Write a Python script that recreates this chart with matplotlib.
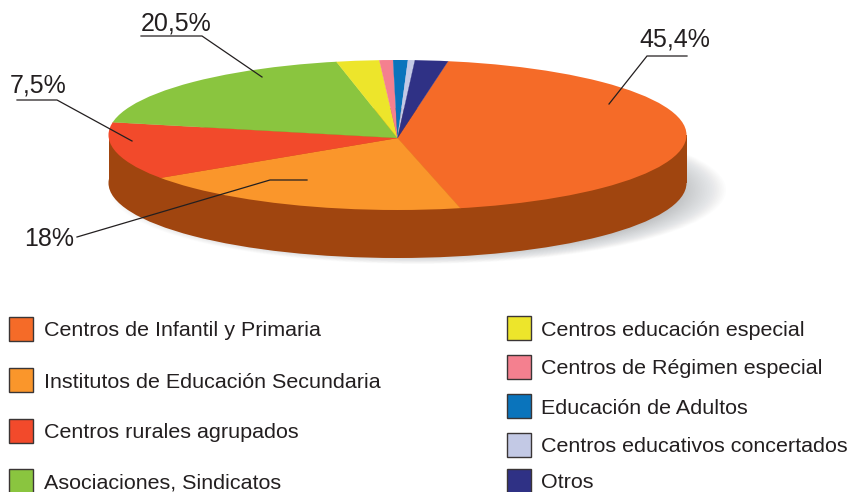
import matplotlib
matplotlib.use("Agg")
import matplotlib.pyplot as plt
from matplotlib.patches import Ellipse, Rectangle

# Slice shares as drawn in the picture (clockwise from the top right)
categories = ["Centros de Infantil y Primaria", "Institutos de Educación Secundaria",
              "Centros rurales agrupados", "Asociaciones, Sindicatos",
              "Centros educación especial", "Centros de Régimen especial",
              "Educación de Adultos", "Centros educativos concertados", "Otros"]
slice_shares = [43.7, 19.5, 12.5, 18.4, 2.3, 0.73, 0.79, 0.37, 1.77]
slice_colors = ["#F56B28", "#FA962B", "#F24A2B", "#8AC53F", "#EDE52B",
                "#F4808F", "#0A74BC", "#C3C9E5", "#2F3185"]
value_labels = ["45,4%", "18%", "7,5%", "20,5%"]

W, H = 851, 492
TXT = "#231f20"
plt.rcParams["font.family"] = ["Liberation Sans", "DejaVu Sans"]
fig = plt.figure(figsize=(W / 100, H / 100), dpi=100, facecolor="white")

# pixel axes for the base (shadow, side)
base = fig.add_axes([0, 0, 1, 1])
base.set_xlim(0, W); base.set_ylim(H, 0); base.axis("off")
n = 50
for i in range(n):
    f = 1 - 0.28 * i / n
    base.add_patch(Ellipse((418, 190), 2 * 308 * f, 2 * 74 * f,
                           fc="#7f868c", ec="none", alpha=0.018, zorder=1))
SIDE = "#A0450F"
RX, RY, CX, CY, DEPTH, APEX = 289, 75, 397.5, 135, 48, 138
base.add_patch(Ellipse((CX, CY + DEPTH), 2 * RX, 2 * RY, fc=SIDE, ec="none", zorder=2))
base.add_patch(Rectangle((CX - RX, CY), 2 * RX, DEPTH, fc=SIDE, ec="none", zorder=2))

# pie axes: 1 unit = RX px horizontally, RY px vertically, origin at the apex
pie = fig.add_axes([0, 0, 1, 1], facecolor="none")
wedges, _ = pie.pie(slice_shares, colors=slice_colors, startangle=80.3, counterclock=False,
                    radius=1.2, center=(0, 0), frame=True,
                    wedgeprops=dict(linewidth=0.2))
pie.set_aspect("auto")
pie.set_xlim(-CX / RX, (W - CX) / RX)
pie.set_ylim((APEX - H) / RY, APEX / RY)
pie.axis("off")
clip = Ellipse((0, (APEX - CY) / RY), 2, 2, transform=pie.transData)
for w, c in zip(wedges, slice_colors):
    w.set_edgecolor(c)
    w.set_clip_on(True)
    w.set_clip_path(clip)

# annotation + legend axes in pixels
top = fig.add_axes([0, 0, 1, 1], facecolor="none")
top.set_xlim(0, W); top.set_ylim(H, 0); top.axis("off")
leaders = [([609, 647, 687], [104, 56, 56]),
           ([77, 270, 307], [237, 180, 180]),
           ([17, 57, 132], [100, 100, 141]),
           ([141, 202, 262], [36, 36, 77])]
label_xy = [(674.5, 39.5), (49, 239), (38, 86), (176, 23.5)]
for (xs, ys), (tx, ty), s in zip(leaders, label_xy, value_labels):
    top.plot(xs, ys, color=TXT, lw=0.9, solid_joinstyle="miter")
    top.text(tx, ty, s, fontsize=18, color=TXT, ha="center", va="center")

left_y = [329, 380, 431, 481]
right_y = [328, 367, 406, 445, 481]
positions = [(9, 44, y) for y in left_y] + [(507, 541, y) for y in right_y]
for (sx, tx, y), name, c in zip(positions, categories, slice_colors):
    top.add_patch(Rectangle((sx, y - 12), 24, 24, fc=c, ec="#3a3535", lw=1.0, clip_on=True))
    top.text(tx, y, name, fontsize=15.45, color=TXT, ha="left", va="center_baseline")

fig.savefig("out.png", dpi=100)
